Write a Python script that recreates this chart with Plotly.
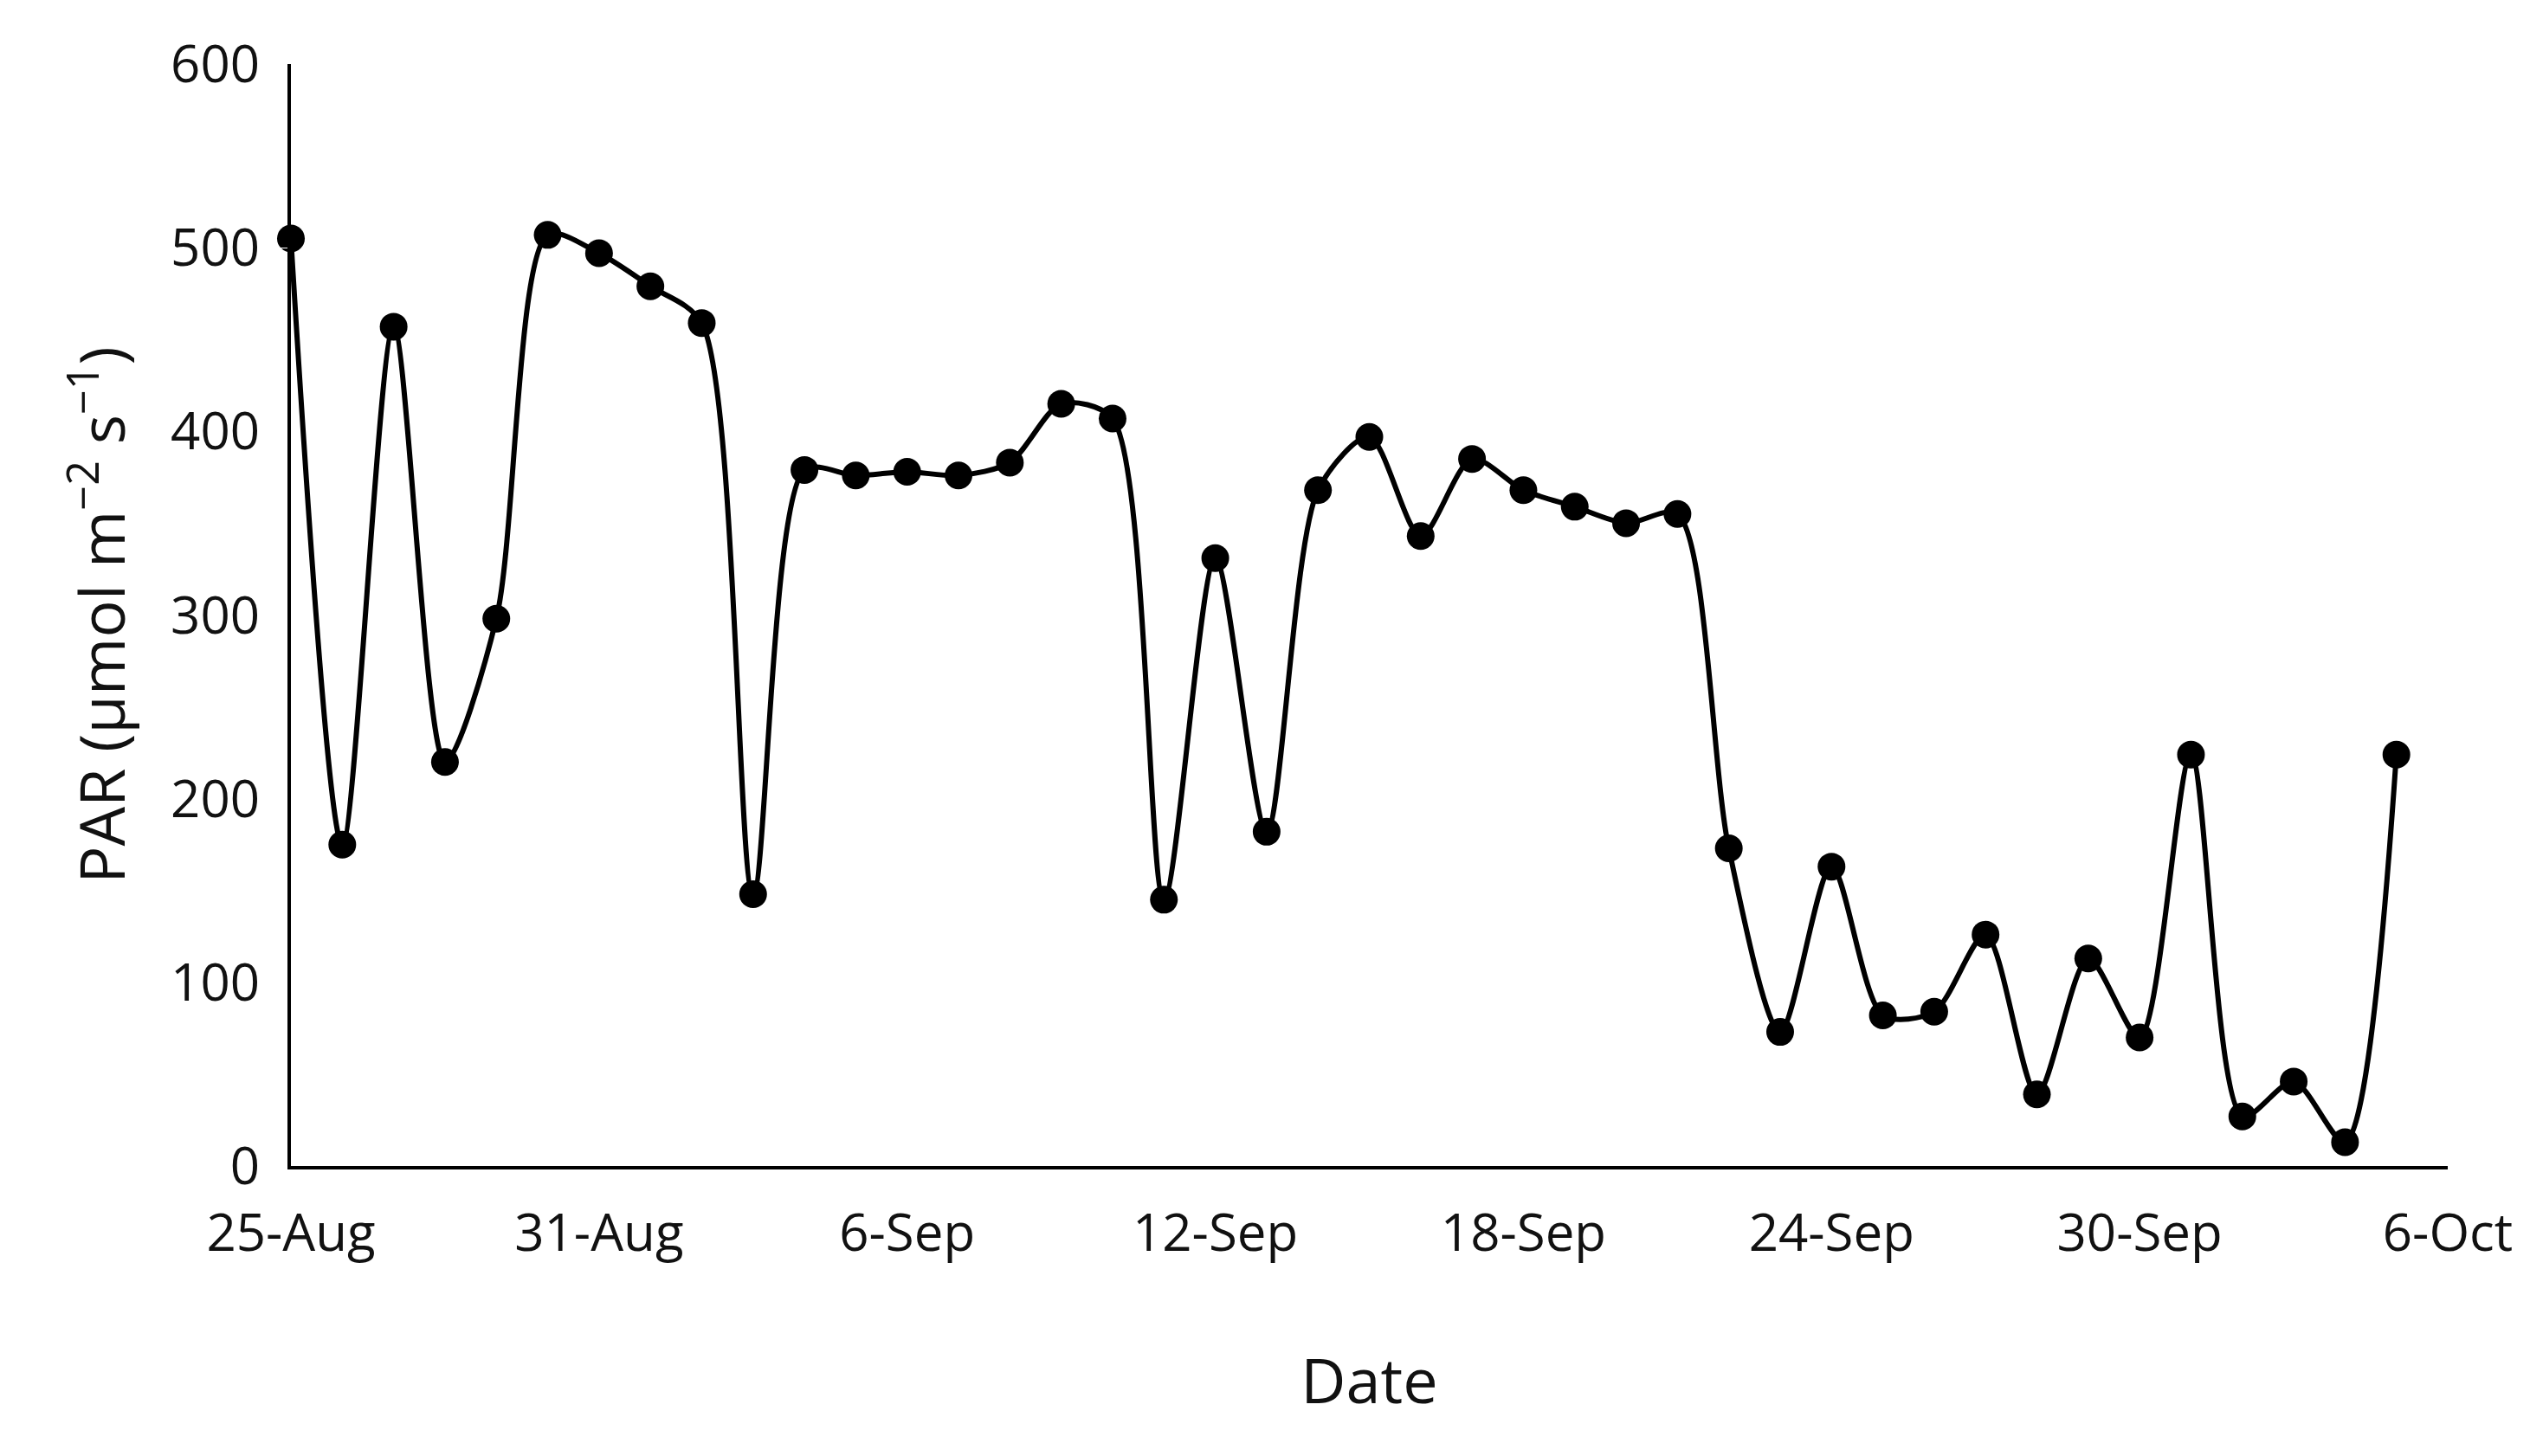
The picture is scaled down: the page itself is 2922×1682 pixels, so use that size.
import plotly.graph_objects as go
import pandas as pd

start_date = "2023-08-25"
par_values = [505, 175, 457, 220, 298, 507, 497, 479, 459, 148, 379, 376, 378, 376,
              383, 415, 407, 145, 331, 182, 368, 397, 343, 385, 368, 359, 350, 355,
              173, 73, 163, 82, 84, 126, 39, 113, 70, 224, 27, 46, 13, 224]
dates = pd.date_range(start_date, periods=len(par_values), freq="D")
tick_dates = pd.date_range("2023-08-25", "2023-10-06", freq="6D")
tick_labels = [f"{d.day}-{d.strftime('%b')}" for d in tick_dates]

fig = go.Figure(go.Scatter(
    x=dates, y=par_values, mode="lines+markers",
    line=dict(color="black", width=6, shape="spline", smoothing=0.8),
    marker=dict(color="black", size=32),
    cliponaxis=False))

font = dict(family="Open Sans, Liberation Sans, sans-serif", size=60, color="#111")
fig.update_layout(
    width=2922, height=1682, plot_bgcolor="white", paper_bgcolor="white",
    margin=dict(l=328, r=103, t=66, b=343), font=font, showlegend=False)
fig.update_xaxes(range=[tick_dates[0], tick_dates[-1]], tickvals=tick_dates, ticktext=tick_labels,
                 showline=True, linecolor="black", linewidth=4, showgrid=False,
                 ticks="outside", ticklen=22, tickcolor="white",
                 title=dict(text="Date", standoff=110), zeroline=False)
fig.update_yaxes(range=[0, 600], dtick=100, showline=True, linecolor="black", linewidth=4,
                 showgrid=False, ticks="outside", ticklen=20, tickcolor="white", zeroline=False,
                 title=dict(text="PAR (µmol m<sup>−2</sup> s<sup>−1</sup>)", standoff=30))
fig.write_html("out.html")
